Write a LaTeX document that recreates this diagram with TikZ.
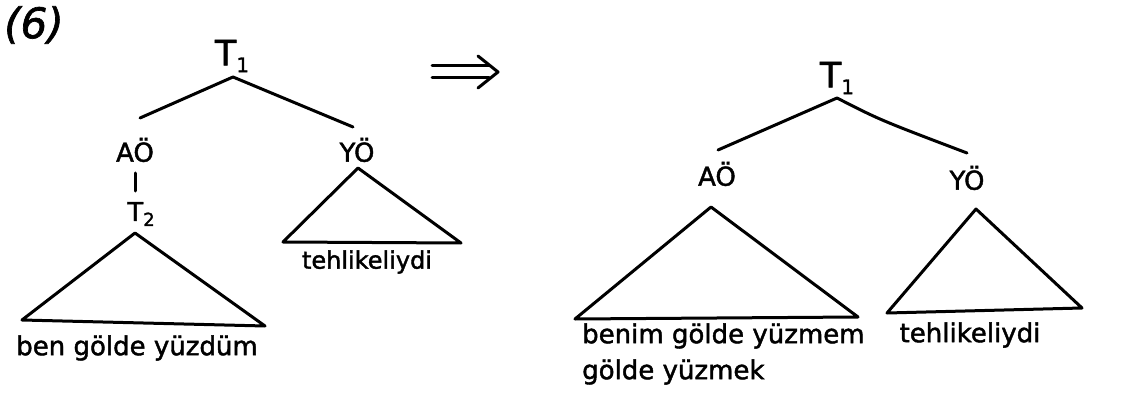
\documentclass[tikz,border=0pt]{standalone}
\usepackage{fontspec}
\setmainfont[FakeBold=1.6]{DejaVu Sans}
\begin{document}
\begin{tikzpicture}[x=1pt,y=-1pt,
  edge/.style={line width=3pt, line cap=round, line join=round},
  lbl/.style={inner sep=0pt, font=\fontsize{26}{30}\selectfont},
  cat/.style={inner sep=0pt, font=\fontsize{26}{30}\selectfont},
  root/.style={inner sep=0pt, font=\fontsize{35}{40}\selectfont}]
\useasboundingbox (0,0) rectangle (1126,398);
% number
\node[inner sep=0pt, font=\fontsize{42}{46}\selectfont\itshape] (num) at (34,25) {(6)};
% ---------- left tree ----------
\node[root] (lT1) at (232,56) {T\raisebox{-0.35ex}{\fontsize{20}{24}\selectfont 1}};
\coordinate (lT1a) at (233,77);
\coordinate (lAe) at (140,118);
\coordinate (lYe) at (353,127);
\node[cat] (lA) at (135,150) {AÖ};
\node[cat] (lY) at (357,150) {YÖ};
\coordinate (lAv1) at (135,173);
\coordinate (lAv2) at (135,191);
\node[cat] (lT2) at (141,214) {T\raisebox{-0.35ex}{\fontsize{18}{21}\selectfont 2}};
\draw[edge] (lT1a) -- (lAe);
\draw[edge] (lT1a) -- (lYe);
\draw[edge] (lAv1) -- (lAv2);
% T2 triangle
\coordinate (t2a) at (135,233);
\coordinate (t2l) at (22,320);
\coordinate (t2r) at (265,326);
\draw[edge] (t2a) -- (t2l) -- (t2r) -- cycle;
\node[lbl] (lt2s) at (137,348) {ben gölde yüzdüm};
% YÖ triangle
\coordinate (lya) at (358,168);
\coordinate (lyl) at (283,242);
\coordinate (lyr) at (461,243);
\draw[edge] (lya) -- (lyl) -- (lyr) -- cycle;
\node[lbl, font=\fontsize{24}{28}\selectfont] (lys) at (367,262) {tehlikeliydi};
% ---------- arrow ----------
\coordinate (ar1) at (432,66);
\coordinate (ar2) at (489,66);
\coordinate (ar3) at (432,78);
\coordinate (ar4) at (489,78);
\coordinate (art) at (498,72);
\coordinate (aru) at (478,56);
\coordinate (ard) at (478,88);
\draw[edge] (ar1) -- (ar2);
\draw[edge] (ar3) -- (ar4);
\draw[edge] (aru) -- (art) -- (ard);
% ---------- right tree ----------
\node[root] (rT1) at (837,78) {T\raisebox{-0.35ex}{\fontsize{20}{24}\selectfont 1}};
\coordinate (rT1a) at (837,98);
\coordinate (rAe) at (718,150);
\coordinate (rYe) at (967,153);
\draw[edge] (rT1a) -- (rAe);
\draw[edge] (rT1a) .. controls (880,120) .. (rYe);
\node[cat] (rA) at (717,174) {AÖ};
\node[cat] (rY) at (967,178) {YÖ};
% AÖ triangle
\coordinate (raa) at (711,207);
\coordinate (ral) at (575,319);
\coordinate (rar) at (858,317);
\draw[edge] (raa) -- (ral) -- (rar) -- cycle;
\node[lbl, anchor=west] (ras1) at (582,336) {benim gölde yüzmem};
\node[lbl, anchor=west] (ras2) at (582,372) {gölde yüzmek};
% YÖ triangle
\coordinate (rya) at (976,209);
\coordinate (ryl) at (887,313);
\coordinate (ryr) at (1082,308);
\draw[edge] (rya) -- (ryl) -- (ryr) -- cycle;
\node[lbl] (rys) at (970,335) {tehlikeliydi};
\end{tikzpicture}
\end{document}
